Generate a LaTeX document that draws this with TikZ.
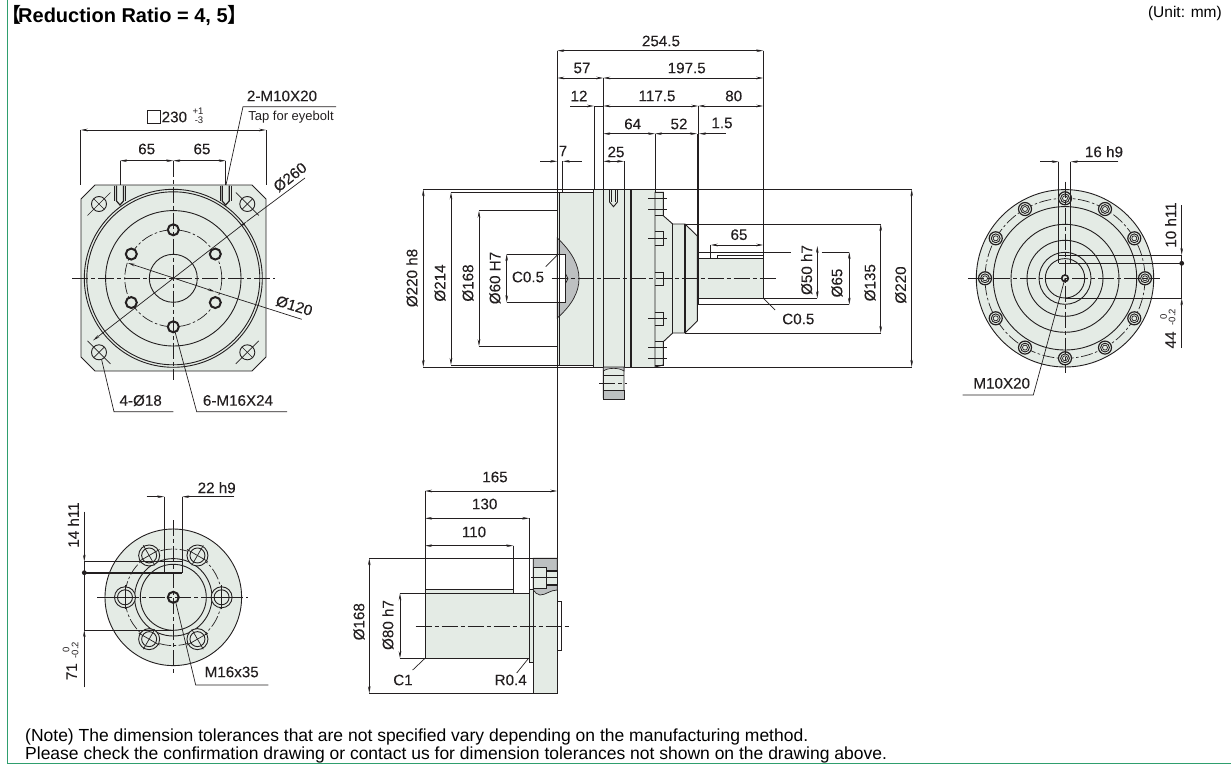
\documentclass[tikz,border=0pt]{standalone}
\usepackage{fontspec}
\setmainfont{Liberation Sans}
\newfontfamily\cjk{Noto Sans CJK JP}
\newfontfamily\labfont[FakeBold=0.12]{Liberation Sans}
\usetikzlibrary{arrows.meta,positioning}
\definecolor{bodygreen}{HTML}{E4EBE5}
\definecolor{cutgray}{HTML}{BDC0C1}
\definecolor{framegreen}{HTML}{2F9E6E}
\definecolor{inkline}{HTML}{231F20}

\begin{document}
\begin{tikzpicture}[
  x=1pt, y=-1pt,
  lab/.style={inner sep=0pt, text=inkline, font=\labfont\fontsize{15.2}{17}\selectfont},
  tiny/.style={inner sep=0pt, text=inkline, font=\fontsize{9.5}{10}\selectfont},
  part/.style={draw=inkline, line width=0.9pt},
  hvy/.style={draw=inkline, line width=1.6pt},
  ext/.style={draw=inkline, line width=0.7pt},
  dim/.style={ext, {Stealth[length=7pt,width=2.6pt]}-{Stealth[length=7pt,width=2.6pt]}},
  darr/.style={ext, -{Stealth[length=7pt,width=2.6pt]}},
  cline/.style={draw=inkline, line width=0.7pt, dash pattern=on 16pt off 3pt on 4pt off 3pt},
  pcd/.style={draw=inkline, line width=0.7pt, dash pattern=on 12pt off 2.5pt on 2.5pt off 2.5pt},
  body/.style={part, fill=bodygreen}
]
  \useasboundingbox (0,0) rectangle (1231,776);

  % frame and headings
  \draw[framegreen, line width=1pt] (7.5,0) -- (7.5,763.5) -- (1231,763.5);
  \node[anchor=west, inner sep=0pt, font=\fontsize{20}{22}\selectfont\bfseries] (title) at (1.5,15)
    {{\cjk\bfseries【}\kern-3.5pt Reduction Ratio = 4, 5{\cjk\bfseries】}};
  \node[anchor=east, inner sep=0pt, font=\fontsize{15.5}{17}\selectfont] (unit) at (1222,13) {(Unit: mm)};
  \node[anchor=west, inner sep=0pt, align=left, font=\fontsize{17.5}{18}\selectfont] (note) at (25,746)
    {(Note) The dimension tolerances that are not specified vary depending on the manufacturing method.\\
     Please check the confirmation drawing or contact us for dimension tolerances not shown on the drawing above.};

  % flange view, top left
  \draw[body] (95,185) -- (252,185) -- (266,199) -- (266,357) -- (252,371) -- (95,371) -- (81,357) -- (81,199) -- cycle;
  \draw[part] (173.3,278.3) circle (89) (173.3,278.3) circle (86.5) (173.3,278.3) circle (67.7) (173.3,278.3) circle (24);
  \draw[pcd] (173.3,278.3) circle (48.5);
  \foreach \a in {30,90,...,330} {
    \draw[draw=inkline, line width=2pt, fill=bodygreen] ({173.3+48.5*cos(\a)},{278.3+48.5*sin(\a)}) circle (5.5);
  }
  \foreach \hx/\hy/\s in {99/204/1,247.3/204/-1,99/352.3/-1,247.3/352.3/1} {
    \draw[part] (\hx,\hy) circle (7.5);
    \draw[ext] ({\hx-11.5},{\hy+\s*11.5}) -- ({\hx+11.5},{\hy-\s*11.5});
    \draw[ext] ({\hx-5.3},{\hy-\s*5.3}) -- ({\hx+5.3},{\hy+\s*5.3});
  }
  \foreach \tx in {120,225.7} {
    \draw[body, line width=1.2pt] ({\tx-3.5},185.5) -- ({\tx-3.5},201) -- (\tx,205) -- ({\tx+3.5},201) -- ({\tx+3.5},185.5);
    \draw[ext] ({\tx-5.5},185.5) -- ({\tx-5.5},201) ({\tx+5.5},185.5) -- ({\tx+5.5},201);
  }
  \draw[cline] (72,278.3) -- (275,278.3);
  \draw[cline] (173.3,160.7) -- (173.3,380);
  \draw[ext] (80.7,130) -- (80.7,185) (266,130) -- (266,185);
  \draw[dim] (80.7,130) -- (266,130);
  \draw[ext] (120,160.7) -- (120,185) (225.7,160.7) -- (225.7,185);
  \draw[dim] (120,160.7) -- (173.3,160.7);
  \draw[dim] (173.3,160.7) -- (225.7,160.7);
  \draw[dim] (93,340.5) -- (246.7,221.5);
  \draw[ext] (246.7,221.5) -- (305,178);
  \draw[dim] (128,263) -- (215,291.7);
  \draw[ext] (215,291.7) -- (301.7,319.3);
  \draw[ext, fill=white] (147.3,110.5) rectangle (160,123);
  \node[lab, anchor=west] (sq230) at (161.5,117) {230};
  \node[tiny] (sqplus) at (198,111) {+1};
  \node[tiny] (sqminus) at (199,120) {-3};
  \node[lab] (d65a) at (146.7,149) {65};
  \node[lab] (d65b) at (202,149) {65};
  \node[lab] (tapm) at (282,96) {2-M10X20};
  \node[inner sep=0pt, text=inkline, font=\fontsize{13}{14}\selectfont] (tapt) at (291,117.5) {Tap for eyebolt};
  \draw[ext] (336,106.7) -- (243,106.7) -- (226,185);
  \node[lab, rotate=38] (d260) at (290,177) {Ø260};
  \node[lab, rotate=-17] (d120) at (294.3,305.7) {Ø120};
  \node[lab] (n18) at (140.7,400.5) {4-Ø18};
  \draw[ext] (173.3,411.7) -- (114,411.7) -- (101.7,360);
  \node[lab] (n16) at (238,400.5) {6-M16X24};
  \draw[ext] (287,411.7) -- (196.7,411.7) -- (175,331.7);

  % reducer side view
  \draw[ext] (423.3,189.3) -- (911.7,189.3) (423.3,367) -- (911.7,367);
  \draw[body] (557.3,192.3) rectangle (593.3,365);
  \draw[body] (593.3,189.3) rectangle (655,367);
  \draw[body] (603.3,367) -- (603.3,398) -- (605,399) -- (622,399) -- (624,398) -- (624,367);
  \draw[fill=cutgray, draw=inkline, line width=0.6pt] (603.3,390) rectangle (624,399);
  \draw[fill=cutgray, draw=inkline, line width=0.6pt] (603.3,367) -- (624,367) -- (624,371)
    .. controls (619,367.5) and (608,367.5) .. (603.3,371) -- cycle;
  \draw[part] (603.3,375.7) -- (624,375.7);
  \draw[cline] (599,383.3) -- (626.7,383.3);
  \draw[fill=cutgray, draw=inkline, line width=0.7pt] (557.3,238) .. controls (572,252) and (579,265) .. (579,278.7)
    .. controls (579,292) and (572,305) .. (557.3,318) -- cycle;
  \draw[part, fill=white] (557.3,254) rectangle (565.7,302.3);
  \draw[ext] (565.7,274) -- (568,278.7) -- (565.7,283);
  \draw[part] (559.3,192.3) -- (559.3,365);
  \draw[part] (603.3,189.3) -- (603.3,367) (624,189.3) -- (624,367);
  \draw[hvy] (593.3,189.3) -- (593.3,367) (631,189.3) -- (631,367);
  \draw[body] (655,192.3) -- (663.3,192.3) -- (663.3,215.7) -- (672.7,224) -- (685,224) -- (697.3,236) -- (697.3,321)
    -- (685,333) -- (672.7,333) -- (663.3,341.7) -- (663.3,365) -- (655,367) -- cycle;
  \draw[part] (672.7,224) -- (672.7,333);
  \draw[hvy] (685,224) -- (685,333);
  \foreach \by/\bh in {192.3/215.7,231.7/245,272.3/285.3,312.3/325,341.7/365} {
    \draw[part] (655,\by) -- (663.3,\by) -- (663.3,\bh) -- (655,\bh);
  }
  \foreach \ty in {198,209,238.3,318.3,347.7,358.3} {
    \draw[part] (648,\ty) -- (666.7,\ty);
  }
  \draw[part] (609.5,190) -- (609.5,202) -- (613.5,206.7) -- (617.5,202) -- (617.5,190);
  \draw[part] (611.5,190) -- (611.5,202) (615.5,190) -- (615.5,202);
  \draw[body] (698.3,258.3) rectangle (763.3,298.3);
  \draw[part] (717,255) rectangle (763.3,258.3);
  \draw[hvy, line width=2pt] (698,236) -- (698,304.7);
  \draw[cline] (551.7,278.7) -- (776.7,278.7);
  % side view dimensions
  \draw[part] (557.3,50.7) -- (557.3,693);
  \draw[ext] (763.3,50.7) -- (763.3,78);
  \draw[part] (763.3,78) -- (763.3,258);
  \draw[dim] (557.3,50.7) -- (763.3,50.7);
  \draw[dim] (557.3,78) -- (603.3,78);
  \draw[dim] (603.3,78) -- (763.3,78);
  \draw[part] (603.3,78) -- (603.3,190);
  \draw[ext] (594,106) -- (594,190);
  \draw[darr] (570,106) -- (594,106);
  \draw[dim] (603.3,106) -- (698.3,106);
  \draw[dim] (698.3,106) -- (763.3,106);
  \draw[part] (594,106) -- (603.3,106);
  \draw[part] (698.5,106) -- (698.5,133.7);
  \draw[hvy, line width=2pt] (698,133.7) -- (698,236);
  \draw[dim] (603.3,133.7) -- (655,133.7);
  \draw[dim] (655,133.7) -- (697,133.7);
  \draw[darr] (725.7,133.7) -- (699,133.7);
  \draw[part] (655,133.7) -- (655,192);
  \draw[ext] (562.7,161.3) -- (562.7,192);
  \draw[darr] (540,161.3) -- (557.3,161.3);
  \draw[darr] (581.7,161.3) -- (562.7,161.3);
  \draw[dim] (603.3,161.3) -- (624,161.3);
  \draw[ext] (624,161.3) -- (624,189.3);
  \node[lab] (d254) at (661,41) {254.5};
  \node[lab] (d57) at (582,68) {57};
  \node[lab] (d197) at (686.7,68) {197.5};
  \node[lab] (d12) at (579,96) {12};
  \node[lab] (d117) at (657,96) {117.5};
  \node[lab] (d80) at (733.7,96) {80};
  \node[lab] (d64) at (632.7,124) {64};
  \node[lab] (d52) at (679,124) {52};
  \node[lab] (d15) at (722,123) {1.5};
  \node[lab] (d7) at (563,151) {7};
  \node[lab] (d25) at (616,152) {25};
  \draw[dim] (423.3,189.3) -- (423.3,367);
  \draw[ext] (451,192.3) -- (557.3,192.3) (451,365) -- (557.3,365);
  \draw[dim] (451,192.3) -- (451,365);
  \draw[ext] (479,210.7) -- (557.3,210.7) (479,346.3) -- (557.3,346.3);
  \draw[dim] (479,210.7) -- (479,346.3);
  \draw[ext] (506.7,254) -- (565,254) (506.7,302.3) -- (565,302.3);
  \draw[dim] (506.7,254) -- (506.7,302.3);
  \node[lab, rotate=90] (o220h) at (412,278) {Ø220 h8};
  \node[lab, rotate=90] (o214) at (440,283) {Ø214};
  \node[lab, rotate=90] (o168) at (468,283) {Ø168};
  \node[lab, rotate=90] (o60) at (495,278) {Ø60 H7};
  \node[lab] (c05a) at (528,277) {C0.5};
  \draw[ext] (545.7,266.7) -- (557.3,255);
  \draw[ext] (710.7,245) -- (710.7,258.3);
  \draw[dim] (710.7,245) -- (763.3,245);
  \node[lab] (d65c) at (739,234.7) {65};
  \draw[ext] (698.3,252) -- (790.7,252) (821.7,252) -- (849.3,252) (698.3,304.7) -- (849.3,304.7);
  \draw[dim] (849.3,252) -- (849.3,304.7);
  \draw[ext] (763.3,298.3) -- (817.3,298.3);
  \draw[dim] (817.3,246) -- (817.3,298.3);
  \draw[ext] (685,224) -- (880.7,224) (685,333) -- (880.7,333);
  \draw[dim] (880.7,224) -- (880.7,333);
  \draw[dim] (911.7,189.3) -- (911.7,367);
  \node[lab, rotate=90] (o50) at (806.7,270) {Ø50 h7};
  \node[lab, rotate=90] (o65) at (837,283) {Ø65};
  \node[lab, rotate=90] (o135) at (870,282.7) {Ø135};
  \node[lab, rotate=90] (o220) at (900.7,285) {Ø220};
  \draw[ext] (763.3,298.3) -- (775,310);
  \node[lab] (c05b) at (798.3,319) {C0.5};

  % output end view, right
  \fill[bodygreen] (1065,278.3) circle (88.7);
  \foreach \r in {88.7,71.7,54,38,26,19.7} {
    \draw[part] (1065,278.3) circle (\r);
  }
  \draw[pcd] (1065,278.3) circle (80);
  \foreach \a in {0,30,...,330} {
    \draw[part, fill=bodygreen, line width=1.2pt] ({1065+80*cos(\a)},{278.3+80*sin(\a)}) circle (6.5);
    \draw[part] ({1065+80*cos(\a)},{278.3+80*sin(\a)}) circle (4.4);
    \draw[ext] ({1065+80*cos(\a)},{278.3+80*sin(\a)}) circle (2.5);
  }
  \draw[hvy, fill=bodygreen] (1065,278.3) circle (3.3);
  \draw[cline] (968,278.3) -- (1160,278.3);
  \draw[cline] (1065,181.7) -- (1065,373);
  \draw[part] (1058.7,161.7) -- (1058.7,263.3);
  \draw[part] (1070.7,161.7) -- (1070.7,263.3);
  \draw[darr] (1040,161.7) -- (1058.7,161.7);
  \draw[darr] (1118.3,161.7) -- (1070.7,161.7);
  \node[lab] (k16) at (1104,151.7) {16 h9};
  \draw[part] (1058.7,255) -- (1181.7,255);
  \draw[hvy] (1058.7,263.3) -- (1181.7,263.3);
  \draw[part] (1065,298.3) -- (1181.7,298.3);
  \draw[darr] (1181.7,205) -- (1181.7,255);
  \draw[darr] (1181.7,348) -- (1181.7,298.3);
  \draw[ext] (1181.7,255) -- (1181.7,298.3);
  \fill[inkline] (1181.7,263.3) circle (2.4);
  \node[lab, rotate=90] (k10) at (1170.7,225) {10 h11};
  \node[lab, rotate=90] (k44) at (1170.7,340) {44};
  \node[tiny, rotate=90] (k44a) at (1163.5,317) {0};
  \node[tiny, rotate=90] (k44b) at (1172,317) {-0.2};
  \draw[ext] (1065,278.3) -- (1033.3,395) -- (962.7,395);
  \node[lab] (m10) at (1001.7,383.3) {M10X20};

  % input end view, lower left
  \draw[body] (173.3,597.3) circle (68.3);
  \draw[part] (173.3,597.3) circle (38.7) (173.3,597.3) circle (33);
  \draw[pcd] (173.3,597.3) circle (48.3);
  \foreach \a in {0,60,...,300} {
    \draw[part, fill=bodygreen] ({173.3+48.3*cos(\a)},{597.3+48.3*sin(\a)}) circle (10.5);
    \draw[part] ({173.3+48.3*cos(\a)},{597.3+48.3*sin(\a)}) circle (7.5);
    \draw[ext] ({173.3+37*cos(\a)},{597.3+37*sin(\a)}) -- ({173.3+60*cos(\a)},{597.3+60*sin(\a)});
    \draw[ext] ({173.3+48.3*cos(\a)-12*sin(\a)},{597.3+48.3*sin(\a)+12*cos(\a)})
      -- ({173.3+48.3*cos(\a)+12*sin(\a)},{597.3+48.3*sin(\a)-12*cos(\a)});
  }
  \draw[draw=inkline, line width=2pt, fill=bodygreen] (173.3,597.3) circle (5.5);
  \draw[cline] (97.3,597.3) -- (248.3,597.3);
  \draw[cline] (173.3,520) -- (173.3,675);
  \draw[part] (164.3,496.7) -- (164.3,572.7);
  \draw[part] (182.3,496.7) -- (182.3,572.7);
  \draw[darr] (146.7,496.7) -- (164.3,496.7);
  \draw[darr] (234.3,496.7) -- (182.3,496.7);
  \node[lab] (k22) at (216.7,487.7) {22 h9};
  \draw[part] (84.3,561.7) -- (182.3,561.7);
  \draw[hvy] (84.3,572.7) -- (182.3,572.7);
  \draw[part] (84.3,630) -- (173.3,630);
  \draw[darr] (84.3,511.7) -- (84.3,561.7);
  \draw[darr] (84.3,687.3) -- (84.3,630);
  \draw[ext] (84.3,561.7) -- (84.3,630);
  \fill[inkline] (84.3,572.7) circle (2.4);
  \node[lab, rotate=90] (k14) at (73.3,525) {14 h11};
  \node[lab, rotate=90] (k71) at (71.7,671.7) {71};
  \node[tiny, rotate=90] (k71a) at (66,650) {0};
  \node[tiny, rotate=90] (k71b) at (75,650) {-0.2};
  \draw[ext] (176,603.3) -- (195.7,685) -- (268.3,685);
  \node[lab] (m16) at (231.7,672) {M16x35};

  % input shaft view, bottom middle
  \draw[body] (533.3,558.3) rectangle (557.3,693.3);
  \draw[fill=cutgray, draw=inkline, line width=0.7pt] (533.3,558.3) -- (557.3,558.3) -- (557.3,590)
    .. controls (550,590) and (546,595) .. (540,595) .. controls (537,595) and (535,592) .. (533.3,590) -- cycle;
  \draw[body, line width=1.1pt] (533.3,567.3) rectangle (546.7,588.3);
  \draw[body, line width=1.2pt] (546.7,571) rectangle (557.3,585);
  \draw[ext] (531,577.3) -- (557.3,577.3);
  \draw[part] (557.3,601.7) -- (561.7,601.7) -- (561.7,650) -- (557.3,650);
  \draw[part, fill=bodygreen] (529.3,589.3) rectangle (533.3,662.3);
  \draw[part, fill=bodygreen] (425,589.3) rectangle (513.3,593.3);
  \draw[part, fill=bodygreen] (425,593.3) rectangle (529.3,658.3);
  \draw[cline] (415.7,626) -- (570.7,626);
  \draw[ext] (369.3,558.3) -- (557.3,558.3) (369.3,693.3) -- (557.3,693.3);
  \draw[dim] (369.3,558.3) -- (369.3,693.3);
  \draw[ext] (400,593.3) -- (425,593.3) (400,658.3) -- (425,658.3);
  \draw[dim] (400,593.3) -- (400,658.3);
  \draw[part] (425,491) -- (425,593);
  \draw[part] (529.3,518.3) -- (529.3,589.3);
  \draw[part] (513.3,545.7) -- (513.3,589.3);
  \draw[dim] (425,491) -- (557.3,491);
  \draw[dim] (425,518.3) -- (529.3,518.3);
  \draw[dim] (425,545.7) -- (513.3,545.7);
  \node[lab] (s165) at (495,477) {165};
  \node[lab] (s130) at (484.7,504) {130};
  \node[lab] (s110) at (474,532) {110};
  \node[lab, rotate=90] (s168) at (359,621.7) {Ø168};
  \node[lab, rotate=90] (s80) at (388,625) {Ø80 h7};
  \draw[ext] (425,658.3) -- (412.7,670);
  \node[lab] (c1) at (403,680) {C1};
  \draw[ext] (528,659) -- (516.7,673);
  \node[lab] (r04) at (510.7,680) {R0.4};
\end{tikzpicture}
\end{document}
